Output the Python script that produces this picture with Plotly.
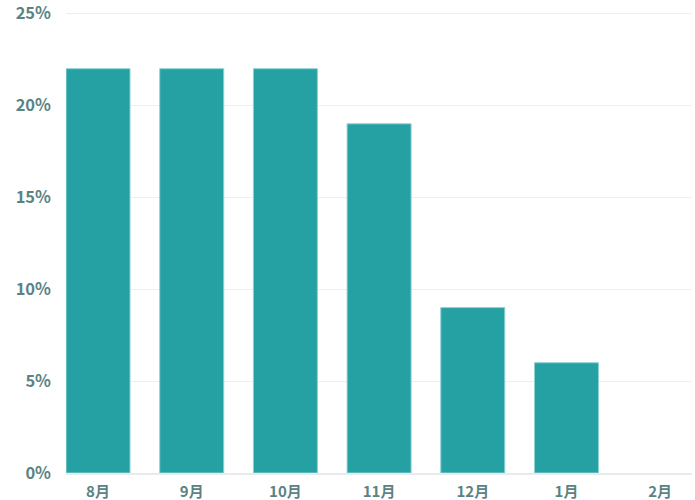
import plotly.graph_objects as go

months = ["8月", "9月", "10月", "11月", "12月", "1月", "2月"]
values = [22, 22, 22, 19, 9, 6, 0]
y_ticks = [0, 5, 10, 15, 20, 25]
y_tick_labels = ["0%", "5%", "10%", "15%", "20%", "25%"]

fig = go.Figure(go.Bar(
    x=months, y=values, width=0.683,
    marker=dict(color="#25a0a3",
                line=dict(color="#8fd0d1", width=[1 if v > 0 else 0 for v in values])),
    hoverinfo="skip",
))

font_family = "Noto Sans CJK JP, Noto Sans, sans-serif"
fig.update_layout(
    width=695, height=500,
    margin=dict(l=66, r=3, t=13, b=27, autoexpand=False),
    plot_bgcolor="white", paper_bgcolor="white",
    showlegend=False,
    font=dict(family=font_family, color="#5b8383", size=15),
    xaxis=dict(
        range=[-0.342, 6.34], showgrid=False, showline=True,
        linecolor="#e6ecee", linewidth=2, ticks="", automargin=False,
        tickfont=dict(family=font_family, size=15, color="#5b8383", weight="bold"),
        ticklabelstandoff=4,
    ),
    yaxis=dict(
        range=[0, 25.03], tickvals=y_ticks, ticktext=y_tick_labels, automargin=False,
        showgrid=True, gridcolor="#efefef", gridwidth=1, zeroline=False,
        ticklabeloverflow="allow",
        tickfont=dict(family=font_family, size=16.5, color="#5b8383", weight="bold"),
        ticklabelstandoff=14,
    ),
)
# top gridline (plotly suppresses the one at the plot edge)
fig.add_shape(type="line", xref="paper", yref="y", x0=0, x1=1,
              y0=y_ticks[-1], y1=y_ticks[-1], line=dict(color="#efefef", width=1),
              layer="below")

fig.write_html("out.html",
               config={"displayModeBar": False, "staticPlot": True},
               post_script="document.body.style.margin='0';document.body.style.overflow='hidden';")
